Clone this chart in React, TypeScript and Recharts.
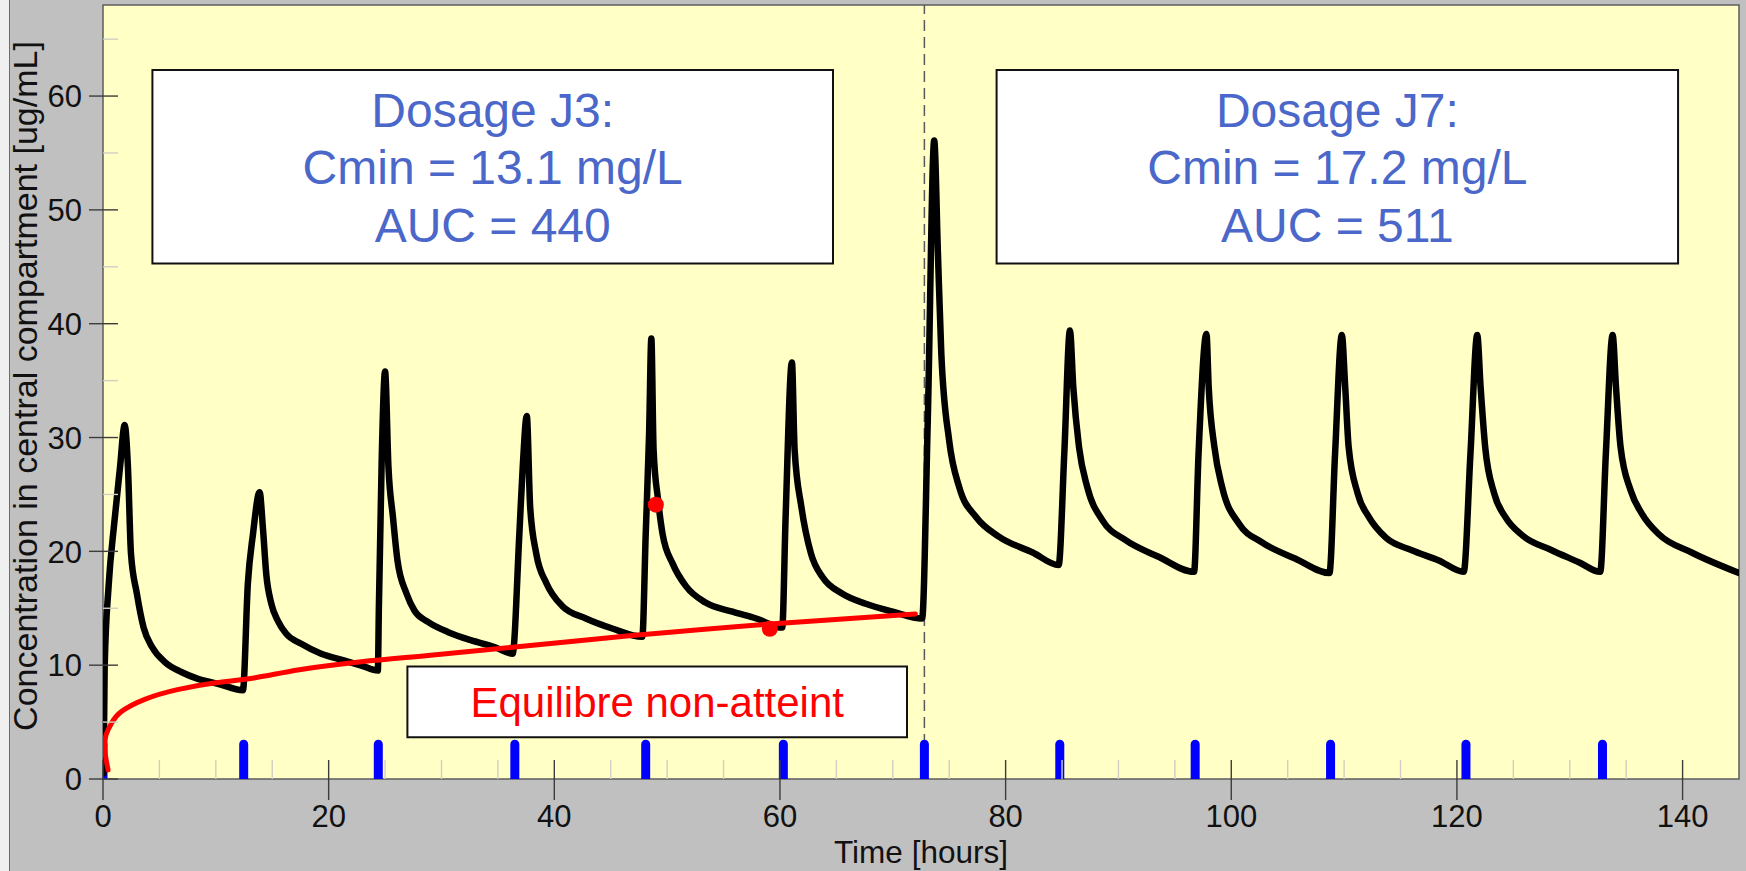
import { CartesianGrid, ComposedChart, Line, ReferenceArea, ReferenceLine, Scatter, XAxis, YAxis } from "recharts"

// concentration in the central compartment, [time h, conc ug/mL]
const CONCENTRATION: [number, number][] = [
  [0.05, 0.5], [0.15, 10], [0.5, 17], [1.0, 22.5], [1.5, 27.3], [1.92, 31.1],
  [2.21, 27.4], [2.48, 19.8], [3.0, 16.3], [3.6, 13.3], [4.35, 11.6], [5.46, 10.3], [6.94, 9.4], [8.42, 8.8], [10.19, 8.37], [12.4, 7.8],
  [12.84, 17.2], [13.29, 21.5], [13.88, 25.2],
  [14.17, 22.1], [14.47, 18.0], [14.92, 15.4], [15.5, 13.9], [16.24, 12.76], [17.57, 11.88], [19.34, 11.0], [21.41, 10.41], [22.9, 9.97], [24.36, 9.53],
  [24.45, 15], [24.7, 28], [25.0, 35.8],
  [25.3, 27.4], [25.7, 23.0], [26.1, 19.2], [26.9, 16.3], [27.6, 14.8], [28.8, 13.8], [30.6, 12.9], [32.6, 12.2], [34.7, 11.6], [36.3, 11.0],
  [36.9, 21.5], [37.2, 27.4], [37.56, 31.9],
  [37.86, 23.9], [38.4, 19.8], [39.3, 17.2], [40.7, 15.2], [42.8, 14.1], [45.2, 13.2], [47.8, 12.5],
  [48.1, 21.5], [48.4, 30.3], [48.6, 38.7],
  [48.8, 28.9], [49.2, 24.5], [49.6, 21.5], [50.5, 18.9], [51.7, 16.9], [53.4, 15.5], [55.8, 14.7], [57.9, 14.1], [60.2, 13.3],
  [60.5, 23.0], [61.06, 36.6],
  [61.3, 28.9], [61.9, 23.9], [62.75, 19.8], [63.8, 17.7], [65.5, 16.3], [67.6, 15.4], [70.0, 14.7], [72.6, 14.1],
  [73.1, 31.5], [73.67, 56.1],
  [74.0, 46.2], [74.3, 37.4], [75.0, 29.7], [75.9, 25.6], [77.4, 23.0], [79.4, 21.3], [82.4, 19.9], [84.7, 18.8],
  [85.2, 28.6], [85.7, 39.4],
  [86.0, 34.4], [86.5, 29.2], [87.25, 25.6], [88.6, 22.7], [90.6, 21.0], [93.6, 19.5], [96.7, 18.2],
  [97.1, 28.6], [97.8, 39.1],
  [98.0, 34.4], [98.5, 29.2], [99.2, 25.6], [100.7, 22.4], [102.7, 20.8], [105.7, 19.35], [108.7, 18.1],
  [109.2, 28.6], [109.8, 39.0],
  [110.1, 34.4], [110.4, 29.2], [111.2, 25.1], [112.2, 23.0], [113.7, 21.2], [116.0, 20.1], [118.4, 19.2], [120.6, 18.2],
  [121.2, 28.6], [121.8, 39.0],
  [122.1, 34.4], [122.5, 29.2], [123.3, 25.1], [124.3, 23.0], [125.8, 21.4], [128.4, 20.1], [130.8, 19.05], [132.7, 18.2],
  [133.2, 28.6], [133.8, 39.0],
  [134.1, 34.4], [134.5, 29.2], [135.4, 25.35], [136.4, 23.3], [137.9, 21.5], [140.8, 19.9], [145, 18.1],
]

// trough trend (steady state not reached)
const TREND: [number, number][] = [
  [0.45, 0.8], [0.15, 2.6], [0.28, 3.9], [0.75, 4.9], [1.6, 5.9], [3.7, 7.0], [6.6, 7.85], [10.0, 8.45], [13.5, 8.9],
  [17.4, 9.6], [22.9, 10.3], [28.8, 10.85], [36.5, 11.6], [46.9, 12.6], [58.8, 13.6], [72.0, 14.5],
]

// measured samples (red dots)
const SAMPLES: [number, number][] = [[49.0, 24.1], [59.1, 13.2]]

const DOSE_TIMES = [0, 12.47, 24.4, 36.5, 48.1, 60.3, 72.8, 84.8, 96.8, 108.8, 120.8, 132.9]
const DOSE_MARK = 3.05
const SPLIT_TIME = 72.8

const X_TICKS = [0, 5, 10, 15, 20, 25, 30, 35, 40, 45, 50, 55, 60, 65, 70, 75, 80, 85, 90, 95, 100, 105, 110, 115, 120, 125, 130, 135, 140]
const Y_TICKS = [0, 5, 10, 15, 20, 25, 30, 35, 40, 45, 50, 55, 60, 65]

const J3_LINES = ["Dosage J3:", "Cmin = 13.1 mg/L", "AUC = 440"]
const J7_LINES = ["Dosage J7:", "Cmin = 17.2 mg/L", "AUC = 511"]
const NOTE_LINES = ["Equilibre non-atteint"]

const FONT = "'Liberation Sans', Arial, sans-serif"
const INK = "#111"
const MAJOR = "#3c3c3c"
const MINOR = "#cfcfc4"
const BLUE_TEXT = "#4a67c9"

const toPts = (arr: [number, number][]) => arr.map(([t, c]) => ({ t, c }))

function XTick({ x, y, payload }: any) {
  const v = payload.value
  const major = v % 20 === 0
  return (
    <g>
      <line x1={x} x2={x} y1={y - 19} y2={major ? y + 21 : y} stroke={major ? MAJOR : MINOR} strokeWidth={1.4} />
      {major && (
        <text x={x} y={y + 48} textAnchor="middle" fontSize={31} fontFamily={FONT} fill={INK}>
          {v}
        </text>
      )}
    </g>
  )
}

function YTick({ x, y, payload }: any) {
  const v = payload.value
  const major = v % 10 === 0
  return (
    <g>
      <line x1={major ? x - 14 : x} x2={x + 15} y1={y} y2={y} stroke={major ? MAJOR : MINOR} strokeWidth={1.4} />
      {major && (
        <text x={x - 21} y={y} dy="0.36em" textAnchor="end" fontSize={31} fontFamily={FONT} fill={INK}>
          {v}
        </text>
      )}
    </g>
  )
}

const boxText = (lines: string[], size: number, gap: number, color: string) => (p: any) => {
  const { x, y, width, height } = p.viewBox
  const cx = x + width / 2
  const cy = y + height / 2
  return (
    <text textAnchor="middle" fontSize={size} fontFamily={FONT} fill={color}>
      {lines.map((l, i) => (
        <tspan key={i} x={cx} y={cy + (i - (lines.length - 1) / 2) * gap} dy="0.37em">
          {l}
        </tspan>
      ))}
    </text>
  )
}

function YLabel({ viewBox }: any) {
  const cx = 37
  const cy = viewBox.y + viewBox.height / 2 - 6
  return (
    <text x={cx} y={cy} transform={`rotate(-90 ${cx} ${cy})`} textAnchor="middle" fontSize={34} fontFamily={FONT} fill={INK}>
      Concentration in central compartment [ug/mL]
    </text>
  )
}

export default function App() {
  const curve = toPts(CONCENTRATION)
  const trend = toPts(TREND)
  const samples = toPts(SAMPLES)
  return (
    <div style={{ position: "relative", width: 1746, height: 871, background: "#c0c0c0" }}>
      <style>{"body{margin:0}"}</style>
      <div style={{ position: "absolute", left: 0, top: 0, width: 9, height: 871, background: "#f0f0f0", borderRight: "1.5px solid #6b6b6b" }} />
      <div style={{ position: "absolute", left: 0, top: 0 }}>
        <ComposedChart width={1746} height={871} margin={{ top: 5, right: 7, bottom: 0, left: 0 }}>
          <CartesianGrid horizontal={false} vertical={false} fill="#ffffc6" fillOpacity={1} />
          <XAxis
            dataKey="t"
            type="number"
            domain={[0, 145]}
            allowDataOverflow
            ticks={X_TICKS}
            interval={0}
            height={92}
            axisLine={false}
            tickLine={false}
            tickSize={0}
            tickMargin={0}
            tick={<XTick />}
            label={{ value: "Time [hours]", position: "insideBottom", offset: 8, fontSize: 31.5, fontFamily: FONT, fill: INK }}
          />
          <YAxis
            type="number"
            domain={[0, 68]}
            allowDataOverflow
            ticks={Y_TICKS}
            interval={0}
            width={103}
            axisLine={false}
            tickLine={false}
            tickSize={0}
            tickMargin={0}
            tick={<YTick />}
            label={<YLabel />}
          />
          <ReferenceArea x1={0} x2={145} y1={0} y2={68} fill="none" stroke="#5e5e5e" strokeWidth={1.5} />
          <ReferenceArea
            x1={4.38} x2={64.7} y1={45.3} y2={62.3}
            fill="#ffffff" fillOpacity={1} stroke="#111" strokeWidth={2}
            label={boxText(J3_LINES, 48, 57.7, BLUE_TEXT)}
          />
          <ReferenceArea
            x1={79.2} x2={139.6} y1={45.3} y2={62.3}
            fill="#ffffff" fillOpacity={1} stroke="#111" strokeWidth={2}
            label={boxText(J7_LINES, 48, 57.7, BLUE_TEXT)}
          />
          <ReferenceArea
            x1={26.98} x2={71.26} y1={3.67} y2={9.88}
            fill="#ffffff" fillOpacity={1} stroke="#111" strokeWidth={2}
            label={boxText(NOTE_LINES, 42, 0, "#ff0000")}
          />
          <ReferenceLine x={SPLIT_TIME} stroke="#5a5a5a" strokeWidth={1.5} strokeDasharray="11 6" />
          {DOSE_TIMES.map((t) => (
            <ReferenceLine
              key={t}
              segment={[{ x: t, y: 0 }, { x: t, y: DOSE_MARK }]}
              stroke="#0000ff"
              strokeWidth={9}
              strokeLinecap="round"
              ifOverflow="hidden"
            />
          ))}
          <Line data={curve} dataKey="c" type="monotone" stroke="#000" strokeWidth={6.5} strokeLinejoin="round" strokeLinecap="round" dot={false} activeDot={false} isAnimationActive={false} />
          <Line data={trend} dataKey="c" type="natural" stroke="#ff0000" strokeWidth={5} strokeLinecap="round" dot={false} activeDot={false} isAnimationActive={false} />
          <Scatter
            data={samples}
            dataKey="c"
            fill="#ff0000"
            shape={(p: any) => <circle cx={p.cx} cy={p.cy} r={8} fill="#ff0000" />}
            isAnimationActive={false}
          />
        </ComposedChart>
      </div>
    </div>
  )
}
